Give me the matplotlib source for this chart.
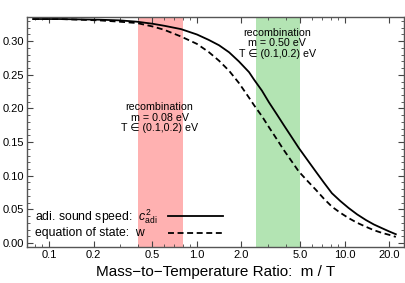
import matplotlib
matplotlib.use("Agg")
import matplotlib.pyplot as plt
from matplotlib.ticker import FixedLocator, MultipleLocator, NullFormatter, FixedFormatter

plt.rcParams['font.family'] = ['Liberation Sans', 'DejaVu Sans']
plt.rcParams['mathtext.fontset'] = 'custom'
plt.rcParams['mathtext.rm'] = 'Liberation Sans'
plt.rcParams['mathtext.it'] = 'Liberation Sans:italic'

# data
mass_ratio = [0.078, 0.117, 0.218, 0.30, 0.393, 0.50, 0.60, 0.78, 1.0, 1.2, 1.41, 1.65,
              1.92, 2.25, 2.43, 2.75, 3.07, 3.45, 3.87, 4.35, 4.89, 5.6, 6.37,
              7.2, 8.17, 9.3, 10.6, 12.1, 13.9, 15.7, 17.8, 20.0, 22.1]
c2_adi = [0.333, 0.333, 0.332, 0.331, 0.329, 0.326, 0.323, 0.318, 0.310, 0.302, 0.294, 0.2835,
          0.270, 0.254, 0.243, 0.2265, 0.209, 0.192, 0.175, 0.158, 0.141, 0.123, 0.106,
          0.090, 0.074, 0.0625, 0.052, 0.0425, 0.034, 0.0275, 0.022, 0.017, 0.013]
w_eos = [0.333, 0.333, 0.331, 0.329, 0.327, 0.322, 0.317, 0.307, 0.296, 0.284, 0.271, 0.256,
         0.238, 0.216, 0.205, 0.1885, 0.172, 0.155, 0.138, 0.122, 0.106, 0.092, 0.079,
         0.066, 0.054, 0.045, 0.037, 0.030, 0.024, 0.019, 0.015, 0.012, 0.009]

band_red = (0.4, 0.8)
band_green = (2.5, 5.0)
label_red = "recombination\nm = 0.08 eV\nT \u2208 (0.1,0.2) eV"
label_green = "recombination\nm = 0.50 eV\nT \u2208 (0.1,0.2) eV"
legend_labels = ['adi. sound speed:  $c^2_{\\mathrm{adi}}$', 'equation of state:  w']

xticks = [0.1, 0.2, 0.5, 1.0, 2.0, 5.0, 10.0, 20.0]
xticklabels = ["0.1", "0.2", "0.5", "1.0", "2.0", "5.0", "10.0", "20.0"]
yticks = [0.00, 0.05, 0.10, 0.15, 0.20, 0.25, 0.30]
yticklabels = ["0.00", "0.05", "0.10", "0.15", "0.20", "0.25", "0.30"]

fig = plt.figure(figsize=(4.05, 2.83), dpi=100)
ax = fig.add_axes([27/405, 36/283, 377/405, 230/283])

ax.axvspan(*band_red, color='#ffb1b1', lw=0, zorder=0)
ax.axvspan(*band_green, color='#b3e4b3', lw=0, zorder=0)

solid_style = dict(color='black', lw=1.3)
dash_style = dict(color='black', lw=1.3, linestyle=(0, (3.3, 2.0)))
ax.plot(mass_ratio, c2_adi, **solid_style)
ax.plot(mass_ratio, w_eos, **dash_style)

ax.set_xscale('log')
ax.set_xlim(0.071, 25.1)
ax.set_ylim(-0.006, 0.336)

ax.xaxis.set_major_locator(FixedLocator(xticks))
ax.xaxis.set_major_formatter(FixedFormatter(xticklabels))
minors = [m * d for d in (0.01, 0.1, 1.0, 10.0) for m in range(1, 10)]
minors = [v for v in minors if v not in xticks]
ax.xaxis.set_minor_locator(FixedLocator(minors))
ax.xaxis.set_minor_formatter(NullFormatter())
ax.yaxis.set_major_locator(FixedLocator(yticks))
ax.yaxis.set_major_formatter(FixedFormatter(yticklabels))
ax.yaxis.set_minor_locator(MultipleLocator(0.01))

ax.tick_params(which='both', direction='in', top=True, right=True, labelsize=8,
               color='#444444', pad=2)
ax.tick_params(which='major', length=4, width=0.8)
ax.tick_params(which='minor', length=2, width=0.6)
for s in ax.spines.values():
    s.set_color('#555555')
    s.set_linewidth(1.0)

ax.set_xlabel('Mass\u2212to\u2212Temperature Ratio:  m / T', fontsize=11, labelpad=3.5)

ax.text(0.56, 0.186, label_red, ha='center', va='center', fontsize=7.7, linespacing=1.05)
ax.text(3.5, 0.297, label_green, ha='center', va='center', fontsize=7.7, linespacing=1.05)

# legend drawn by hand (left-aligned labels, sample lines on the right)
ax.text(0.021, 0.115, legend_labels[0], transform=ax.transAxes, fontsize=8.8,
        ha='left', va='baseline')
ax.text(0.021, 0.048, legend_labels[1], transform=ax.transAxes, fontsize=8.8,
        ha='left', va='baseline')
ax.plot([0.374, 0.520], [0.135, 0.135], transform=ax.transAxes, **solid_style)
ax.plot([0.374, 0.520], [0.062, 0.062], transform=ax.transAxes, **dash_style)

fig.savefig('out.png', dpi=100)
